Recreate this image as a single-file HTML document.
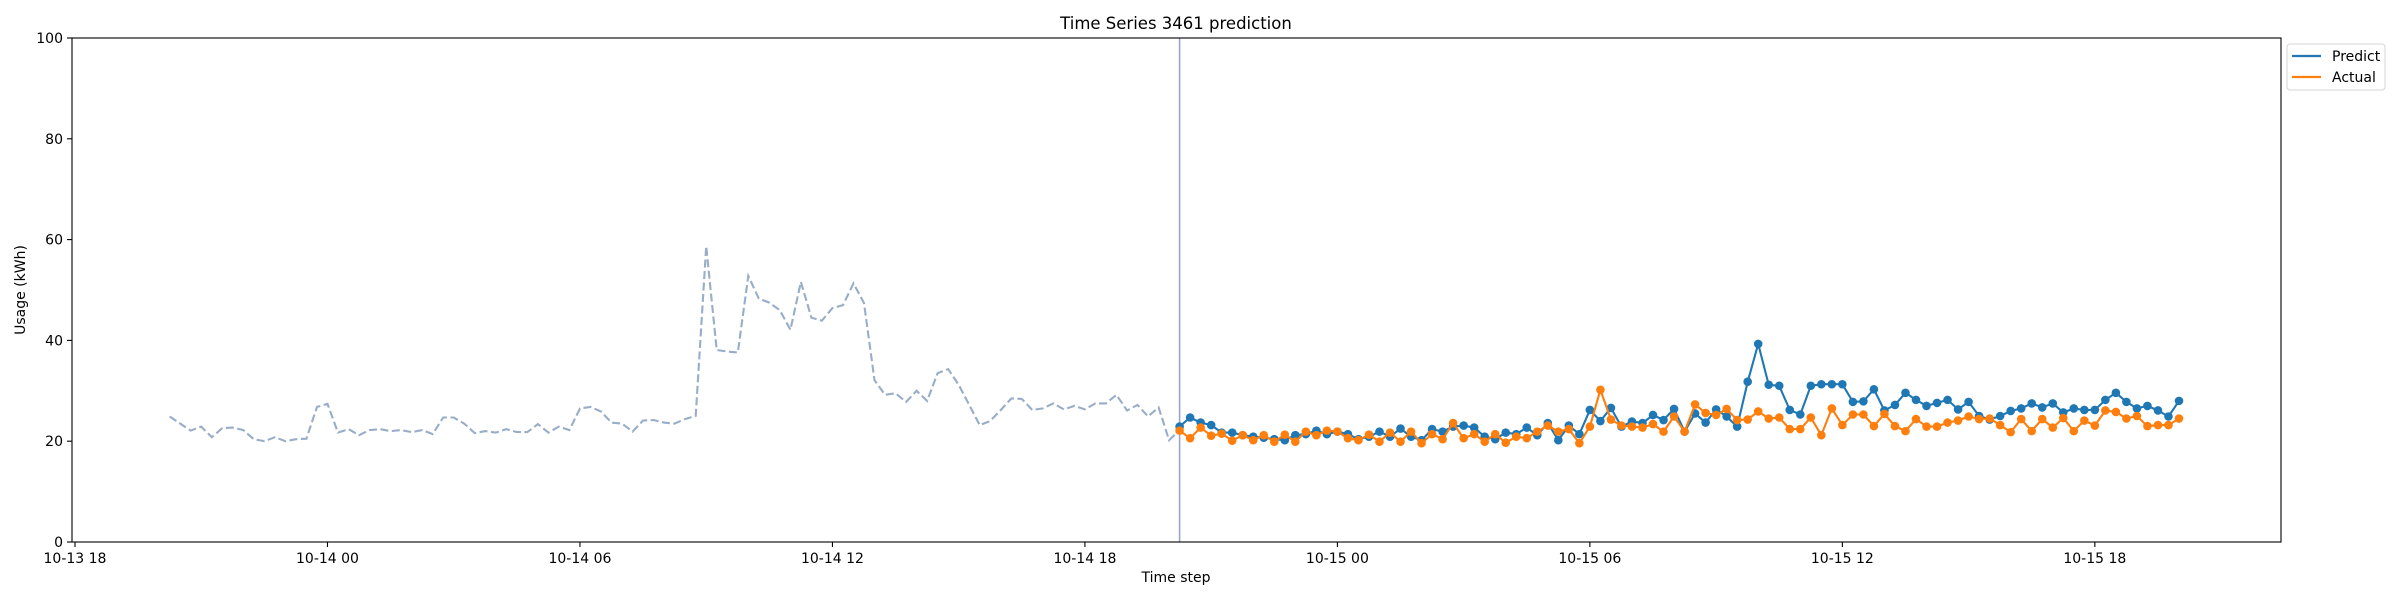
<!DOCTYPE html>
<html><head><meta charset="utf-8"><style>
html,body{margin:0;padding:0;background:#fff;}
svg{display:block;font-family:"DejaVu Sans","Liberation Sans",sans-serif;}
</style></head><body>
<svg id="chart" width="2400" height="600" viewBox="0 0 2400 600">
<rect x="0" y="0" width="2400" height="600" fill="#fff"/>
<g id="grid"></g>
<g id="marks"></g>
<rect x="72" y="38" width="2209" height="504" fill="none" stroke="#000" stroke-width="1.1"/>
<g id="axes"></g>
<text x="1176" y="29" text-anchor="middle" font-size="16.5" fill="#000">Time Series 3461 prediction</text>
<text x="1176" y="582" text-anchor="middle" font-size="14" fill="#000">Time step</text>
<text x="25" y="290" text-anchor="middle" font-size="14" fill="#000" transform="rotate(-90 25 290)">Usage (kWh)</text>
<g>
<rect x="2287" y="44" width="98" height="46" rx="3" fill="#fff" stroke="#d5d5d5" stroke-width="1"/>
<line x1="2292" y1="56" x2="2321" y2="56" stroke="#1f77b4" stroke-width="2.2"/>
<text x="2332" y="61" font-size="14">Predict</text>
<line x1="2292" y1="77" x2="2321" y2="77" stroke="#ff7f0e" stroke-width="2.2"/>
<text x="2332" y="82" font-size="14">Actual</text>
</g>
</svg>
<script>
// hours since 10-13 18:00
const historyStart = 2.25;
const predStart = 26.25;
const stepHours = 0.25;
const historyValues = [24.9,23.5,22.1,22.9,20.8,22.6,22.7,22.2,20.4,20.0,20.8,20.0,20.4,20.5,26.8,27.4,21.7,22.4,21.2,22.2,22.4,22.0,22.2,21.8,22.2,21.4,24.7,24.7,23.5,21.6,22.0,21.7,22.4,21.8,21.8,23.4,21.7,22.9,22.2,26.5,26.8,25.9,23.7,23.5,21.9,24.1,24.2,23.7,23.5,24.4,25.0,
58.7,38.1,37.8,37.6,52.8,48.3,47.5,46.0,42.1,51.6,44.5,43.9,46.4,47.0,51.3,47.4,32.1,29.2,29.5,27.8,30.0,28.0,33.5,34.3,31.2,27.2,23.2,24.0,26.2,28.5,28.4,26.2,26.5,27.5,26.3,27.0,26.3,27.5,27.5,29.2,26.1,27.2,24.9,26.7,20.2,22.2];
const predictValues = [22.9,24.7,23.7,23.2,21.7,21.7,21.2,20.9,20.7,20.4,20.2,21.2,21.4,22.1,21.4,21.9,21.4,20.4,20.9,21.9,20.9,22.5,20.9,20.2,22.4,21.9,22.9,23.1,22.7,20.9,20.4,21.7,21.4,22.7,21.2,23.6,20.2,23.1,21.4,26.2,24.0,26.6,22.9,23.9,23.6,25.2,24.2,26.4,21.9,25.5,23.7,26.3,24.9,
22.9,31.8,39.3,31.2,31.0,26.2,25.3,31.0,31.3,31.3,31.3,27.8,27.9,30.3,26.1,27.2,29.6,28.2,27.0,27.6,28.2,26.3,27.8,25.0,24.3,25.0,26.0,26.5,27.5,26.7,27.5,25.7,26.5,26.2,26.2,28.2,29.6,27.8,26.5,27.0,26.1,24.9,28.0];
const actualValues = [22.1,20.6,22.7,21.1,21.5,20.1,21.2,20.2,21.2,19.9,21.3,19.9,21.9,21.2,22.1,21.9,20.6,20.2,21.3,19.9,21.7,19.9,21.9,19.6,21.4,20.4,23.6,20.6,21.4,19.9,21.4,19.7,20.9,20.6,21.9,23.1,21.9,22.4,19.6,22.9,30.2,24.3,23.1,22.9,22.7,23.4,21.9,24.9,21.9,27.3,25.6,25.2,26.4,
24.2,24.3,25.9,24.5,24.7,22.4,22.4,24.7,21.2,26.5,23.2,25.3,25.3,23.0,25.4,23.0,22.0,24.4,22.9,22.9,23.7,24.1,24.9,24.4,24.5,23.2,21.8,24.4,22.0,24.4,22.7,24.6,22.0,24.1,23.1,26.1,25.8,24.5,25.0,23.0,23.2,23.2,24.5];
const xTickLabels = ["10-13 18","10-14 00","10-14 06","10-14 12","10-14 18","10-15 00","10-15 06","10-15 12","10-15 18"];
const xTickHours = [0,6,12,18,24,30,36,42,48];
const yTicks = [0,20,40,60,80,100];

const NS = "http://www.w3.org/2000/svg";
const X0 = 75, PXH = 42.08, Y0 = 542, PXV = 5.04;
const xs = h => X0 + h * PXH;
const ys = v => Y0 - v * PXV;
function mk(tag, attrs, parent){const e=document.createElementNS(NS,tag);for(const k in attrs)e.setAttribute(k,attrs[k]);parent.appendChild(e);return e;}
const axes = document.getElementById('axes');
const marks = document.getElementById('marks');

xTickHours.forEach((h,i)=>{
  const x = xs(h);
  const t = mk('line',{x1:x,y1:542,x2:x,y2:547,stroke:'#000','stroke-width':1.1},axes);
  
  
  const l = mk('text',{x:x,y:563,'text-anchor':'middle','font-size':14},axes);
  l.textContent = xTickLabels[i];
  
  
});
yTicks.forEach(v=>{
  const y = ys(v);
  const t = mk('line',{x1:67,y1:y,x2:72,y2:y,stroke:'#000','stroke-width':1.1},axes);
  
  
  const l = mk('text',{x:63,y:y+5,'text-anchor':'end','font-size':14},axes);
  l.textContent = String(v);
  
  
});

// history
const hp = historyValues.map((v,i)=>xs(historyStart+i*stepHours).toFixed(1)+','+ys(v).toFixed(1)).join(' ');
const hl = mk('polyline',{points:hp,fill:'none',stroke:'#98adc8','stroke-width':2.1,'stroke-dasharray':'8,3.5'},marks);



// forecast start line
const vl = mk('line',{x1:xs(predStart),y1:38,x2:xs(predStart),y2:542,stroke:'#9aa6c9','stroke-width':1.6},marks);



function series(vals,color,name){
  const pts = vals.map((v,i)=>xs(predStart+i*stepHours).toFixed(1)+','+ys(v).toFixed(1)).join(' ');
  const pl = mk('polyline',{points:pts,fill:'none',stroke:color,'stroke-width':2.1},marks);
  
  
  vals.forEach((v,i)=>{
    const c = mk('circle',{cx:xs(predStart+i*stepHours),cy:ys(v),r:4.3,fill:color},marks);
    
    
  });
}
series(predictValues,'#1f77b4','predict');
series(actualValues,'#ff7f0e','actual');
</script>
</body></html>
